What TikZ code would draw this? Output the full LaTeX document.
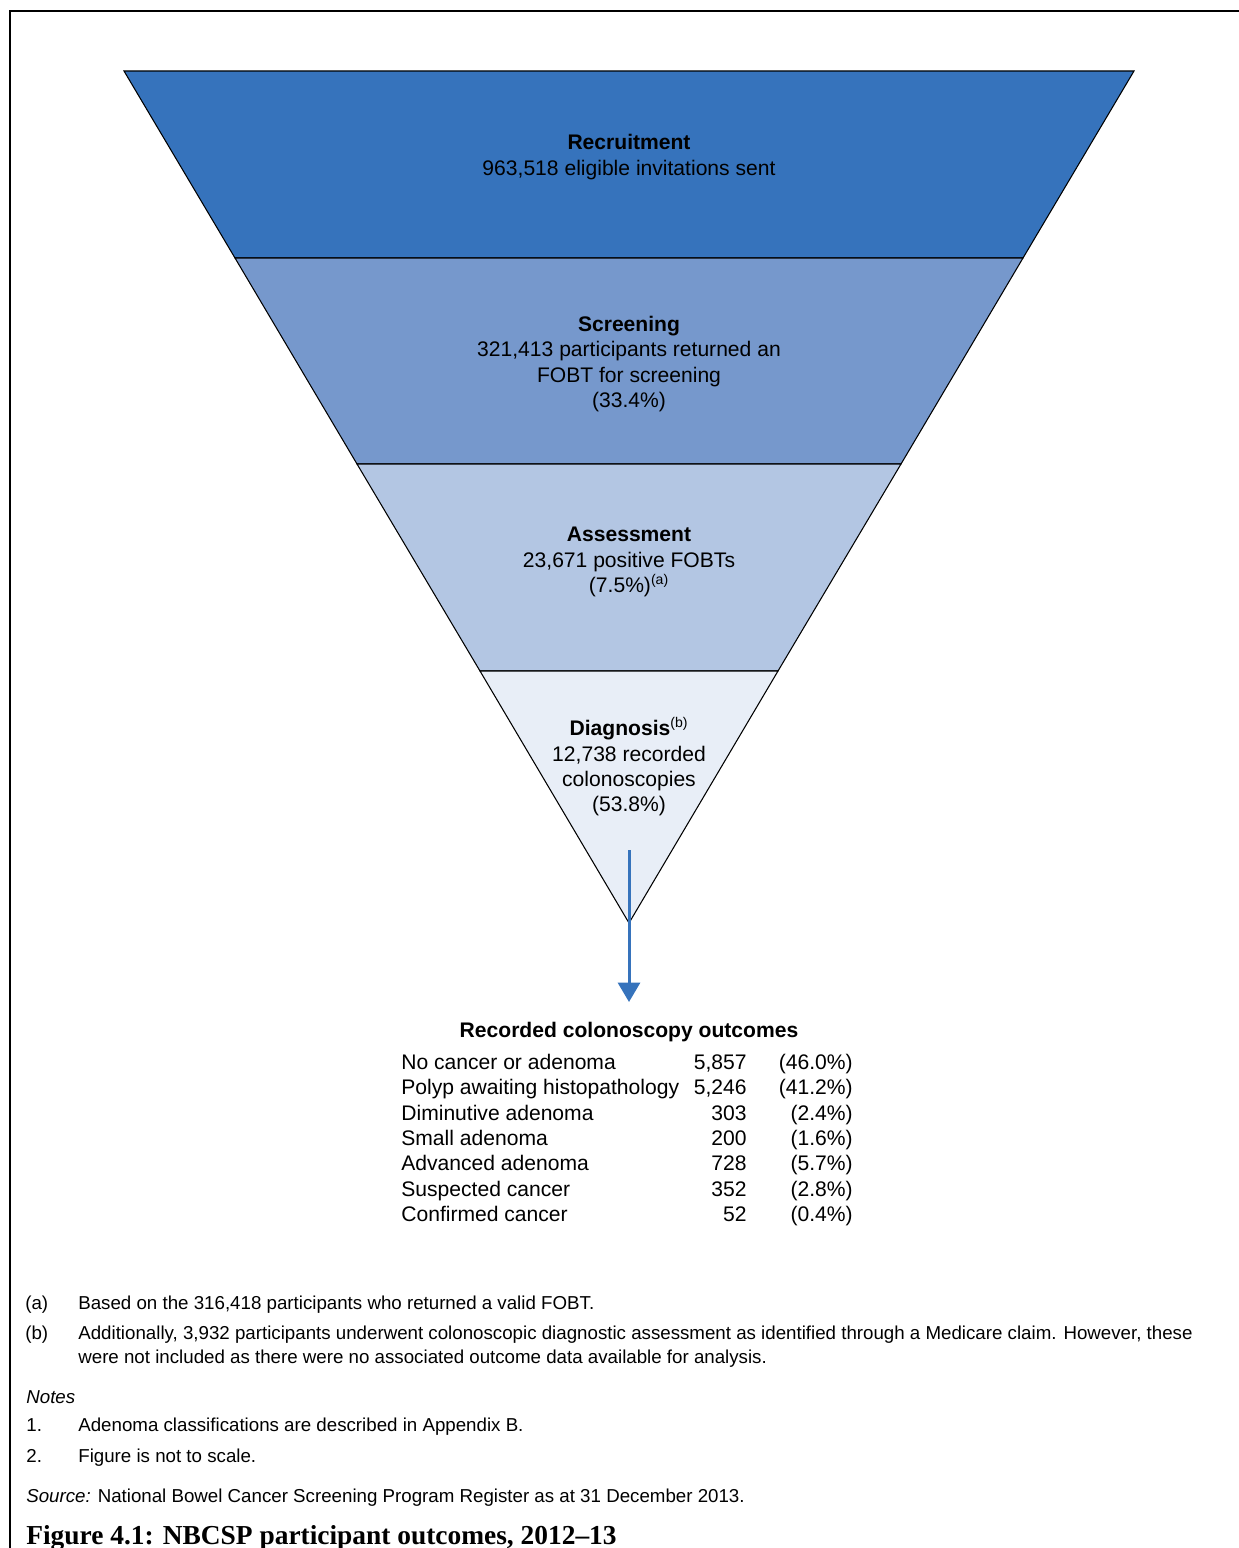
\documentclass[tikz,border=0pt]{standalone}
\usepackage{fontspec}
\setmainfont{Liberation Sans}
\newfontfamily\capfont{Liberation Serif}
\usetikzlibrary{arrows.meta}
\definecolor{recblue}{HTML}{3673BC}
\definecolor{scrblue}{HTML}{7698CC}
\definecolor{assblue}{HTML}{B3C6E3}
\definecolor{diagblue}{HTML}{E8EEF7}
\tikzset{
  band/.style={draw=black, line width=0.6pt},
  stage/.style={align=center, font=\fontsize{12}{14.5}\selectfont},
  row/.style={font=\fontsize{12}{14.5}\selectfont, inner sep=0pt},
  note/.style={font=\fontsize{10.65}{13.7}\selectfont, inner sep=0pt, anchor=base west},
}
\begin{document}
\begin{tikzpicture}[x=0.02cm, y=-0.02cm]
    \useasboundingbox (0,0) rectangle (1239,1548);
    \draw[line width=1.7pt] (10,1548) -- (10,11) -- (1239,11);
    % Funnel
    \filldraw[band, fill=recblue] (124,71) -- (1134,71) -- (1023,258) -- (235,258) -- cycle;
    \filldraw[band, fill=scrblue] (235,258) -- (1023,258) -- (901,464) -- (357,464) -- cycle;
    \filldraw[band, fill=assblue] (357,464) -- (901,464) -- (778,671) -- (480,671) -- cycle;
    \filldraw[band, fill=diagblue] (480,671) -- (778,671) -- (629,923) -- cycle;
    \node[stage] (recruit) at (629,157) {\textbf{Recruitment}\\963,518 eligible invitations sent};
    \node[stage] (screen) at (629,364) {\textbf{Screening}\\321,413 participants returned an\\FOBT for screening\\(33.4\%)};
    \node[stage] (assess) at (629,562) {\textbf{Assessment}\\23,671 positive FOBTs\\(7.5\%)\textsuperscript{(a)}};
    \node[stage] (diag) at (629,767) {\textbf{Diagnosis}\textsuperscript{(b)}\\12,738 recorded\\colonoscopies\\(53.8\%)};
    % Outcomes
    \coordinate (arrtop) at (629,850);
    \coordinate (arrtip) at (629,1002);
    \draw[recblue, line width=1.7pt, -{Triangle[width=12.5pt,length=11pt]}] (arrtop) -- (arrtip);
    \node[row, anchor=base] (outhead) at (629,1037) {\textbf{Recorded colonoscopy outcomes}};
    \foreach \lbl/\num/\pct [count=\i from 0] in {No cancer or adenoma/{5,857}/46.0, Polyp awaiting histopathology/{5,246}/41.2, Diminutive adenoma/303/2.4, Small adenoma/200/1.6, Advanced adenoma/728/5.7, Suspected cancer/352/2.8, Confirmed cancer/52/0.4}{
        \node[row, anchor=base west] (lbl\i) at (401,{1069.5+25.3*\i}) {\lbl};
        \node[row, anchor=base east] (num\i) at (747,{1069.5+25.3*\i}) {\num};
        \node[row, anchor=base east] (pct\i) at (853,{1069.5+25.3*\i}) {(\pct\%)};
    }
    % Footnotes
    \node[note] (fna) at (25,1309) {(a)};
    \node[note] (fnatext) at (78,1309) {Based on the 316,418 participants who returned a valid FOBT.};
    \node[note] (fnb) at (25,1339) {(b)};
    \node[note] (fnbtext) at (78,1339) {Additionally, 3,932 participants underwent colonoscopic diagnostic assessment as identified through a Medicare claim. However, these};
    \node[note] (fnbmore) at (78,1363) {were not included as there were no associated outcome data available for analysis.};
    \node[note] (notes) at (26,1403) {\textit{Notes}};
    \node[note] (n1) at (26,1431) {1.};
    \node[note] (n1text) at (78,1431) {Adenoma classifications are described in Appendix B.};
    \node[note] (n2) at (26,1462) {2.};
    \node[note] (n2text) at (78,1462) {Figure is not to scale.};
    \node[note] (source) at (26,1502) {\textit{Source:} National Bowel Cancer Screening Program Register as at 31 December 2013.};
    \node[anchor=base west, inner sep=0pt, font=\capfont\bfseries\fontsize{15.6}{19}\selectfont] (caption) at (26,1544) {Figure 4.1: NBCSP participant outcomes, 2012–13};
\end{tikzpicture}
\end{document}
